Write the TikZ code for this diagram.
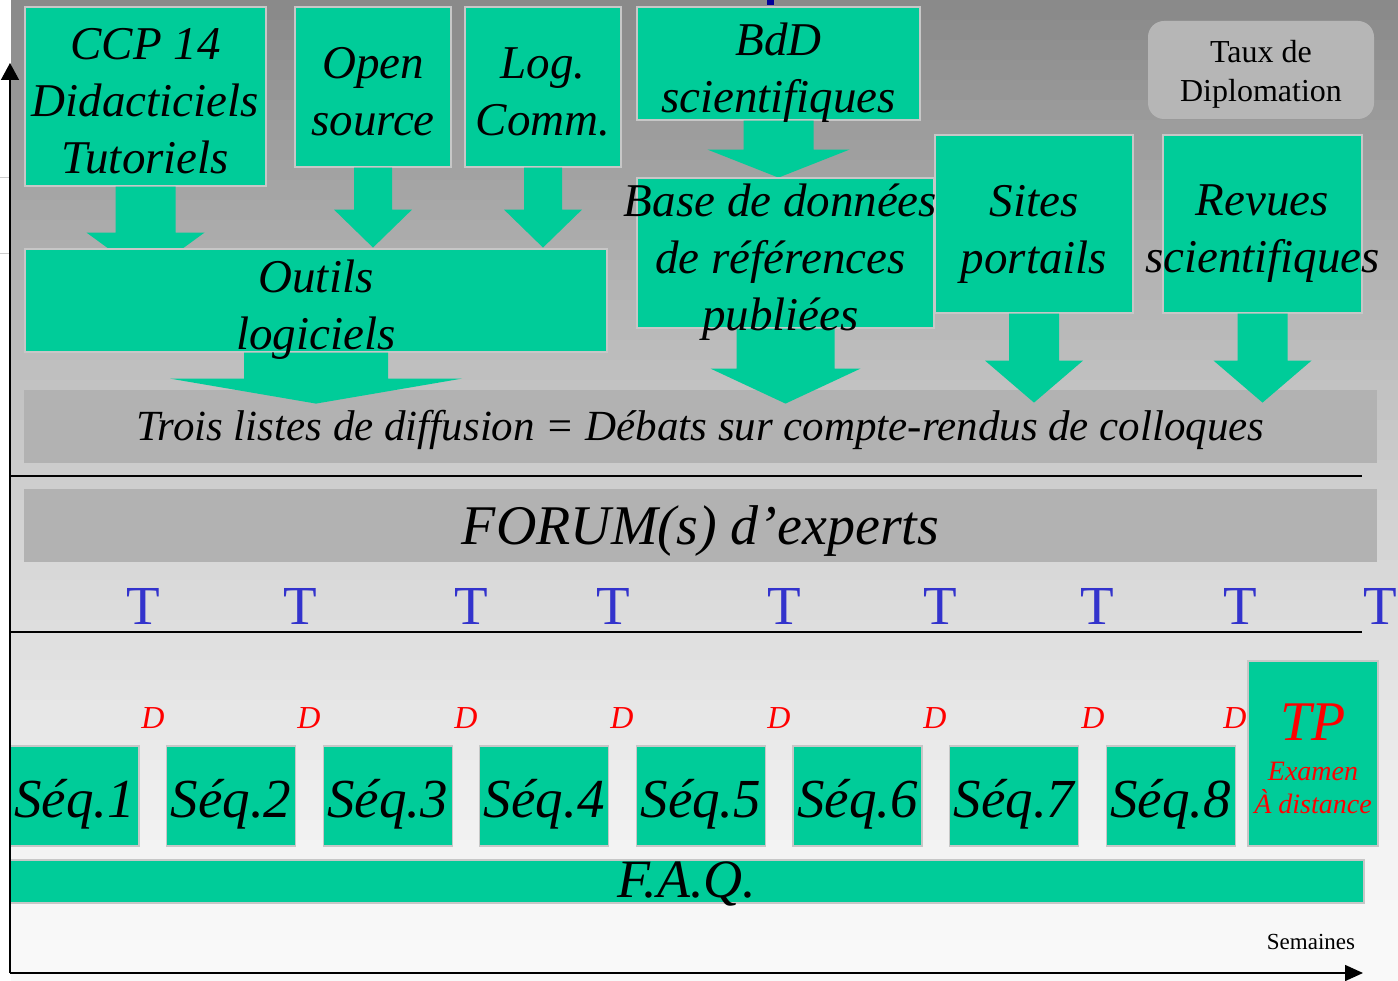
\documentclass[tikz,border=0pt]{standalone}
\usepackage{fontspec}
\setmainfont{Liberation Serif}
\usetikzlibrary{arrows.meta,calc}

\definecolor{boxgreen}{HTML}{00CC99}
\definecolor{bargray}{HTML}{B2B2B2}
\definecolor{tauxgray}{HTML}{B6B6B6}
\definecolor{tblue}{HTML}{3333CC}

\tikzset{
  gbox/.style={fill=boxgreen, draw=black!22, line width=1.2pt, inner sep=0pt},
  greybar/.style={fill=bargray, inner sep=0pt, minimum width=1353pt, minimum height=73pt, text depth=0pt},
  bigit/.style={font=\fontsize{47}{57}\selectfont\itshape, align=center, inner sep=0pt},
  tmark/.style={text=tblue, font=\fontsize{55}{55}\selectfont, inner sep=0pt},
  dmark/.style={text=red, font=\fontsize{32}{32}\selectfont\itshape, inner sep=0pt},
  seqbox/.style={gbox, minimum width=129pt, minimum height=100pt,
    font=\fontsize{55}{55}\selectfont\itshape, text height=42pt, text depth=0pt},
}

% source, shaft length, total length, shaft half width, head half width
\newcommand\bigarrow[5]{%
  \fill[boxgreen] ($(#1.south)+(-#4,0)$) -- ($(#1.south)+(-#4,#2)$) -- ($(#1.south)+(-#5,#2)$)
    -- ($(#1.south)+(0,#3)$) -- ($(#1.south)+(#5,#2)$) -- ($(#1.south)+(#4,#2)$)
    -- ($(#1.south)+(#4,0)$) -- cycle;}

\begin{document}
\begin{tikzpicture}[x=1pt, y=-1pt]
  \useasboundingbox (0,0) rectangle (1398,981);
  \fill[white] (0,0) rectangle (1398,981);

  % fond degrade
  \foreach \i in {0,...,48} {
    \pgfmathsetmacro\shadeval{2+44*(1-\i/49)^1.4}
    \fill[black!\shadeval] (11,\i*20) rectangle (1398,\i*20+21);
  }
  \draw[black!20] (0,177) -- (10,177);
  \draw[black!20] (0,253) -- (10,253);
  \fill[blue!60!black] (767,0) rectangle (774,5);

  % bandes grises
  \node[greybar, font=\fontsize{43}{43}\selectfont\itshape, text height=29pt] (listes) at (700.5,426.5)
    {Trois listes de diffusion = Débats sur compte-rendus de colloques};
  \node[greybar, font=\fontsize{56}{56}\selectfont\itshape, text height=38pt] (forum) at (700.5,525.5)
    {FORUM(s) d’experts};

  % ressources du haut
  \node[gbox, minimum width=241pt, minimum height=179pt] (ccp) at (145.5,96.5) {};
  \node[gbox, minimum width=156pt, minimum height=160pt] (opensrc) at (373,87) {};
  \node[gbox, minimum width=156pt, minimum height=160pt] (logcomm) at (543,87) {};
  \node[gbox, minimum width=283pt, minimum height=113pt] (bdd) at (778.5,63.5) {};

  \bigarrow{ccp}{46}{89}{30}{59}
  \bigarrow{opensrc}{42}{80}{19}{39}
  \bigarrow{logcomm}{42}{80}{19}{39}
  \bigarrow{bdd}{29}{57}{35}{71}

  \node[gbox, minimum width=582pt, minimum height=103pt] (outils) at (316,300.5) {};
  \node[gbox, minimum width=198pt, minimum height=178pt] (sites) at (1034,224) {};
  \node[gbox, minimum width=199pt, minimum height=178pt] (revues) at (1262.5,224) {};
  \node[gbox, minimum width=297pt, minimum height=150pt] (basedon) at (785.5,253) {};

  \bigarrow{outils}{26}{51}{72}{146}
  \bigarrow{basedon}{40}{75}{49}{75}
  \bigarrow{sites}{47}{89}{25}{49}
  \bigarrow{revues}{47}{89}{25}{49}

  \foreach \n/\dx/\dy/\t in {ccp/0/5/{CCP 14\\Didacticiels\\Tutoriels}, opensrc/0/5/{Open\\source},
      logcomm/0/5/{Log.\\Comm.}, bdd/0/9/{BdD\\scientifiques},
      basedon/-5/9/{Base de données\\de références\\publiées},
      sites/0/10/{Sites\\portails}, revues/0/10/{Revues\\scientifiques},
      outils/0/9/{Outils\\logiciels}}
    \node[bigit] (\n-txt) at ($(\n)+(\dx,\dy)$) {\t};

  \node[fill=tauxgray, rounded corners=16pt, minimum width=226pt, minimum height=98pt,
    align=center, font=\fontsize{32}{39}\selectfont, inner sep=0pt] (taux) at (1261,70) {};
  \node[align=center, font=\fontsize{32}{39}\selectfont, inner sep=0pt] (taux-txt)
    at ($(taux)+(0,4)$) {Taux de\\Diplomation};

  % semaines
  \draw[line width=1.3pt] (10,476) -- (1362,476);
  \draw[line width=1.3pt] (10,632) -- (1362,632);

  \foreach \x [count=\k] in {143,300,471,613,784,940,1097,1240,1380}
    \node[tmark] (t\k) at (\x,606) {T};
  \foreach \x [count=\k] in {153,309,466,622,779,935,1093,1235}
    \node[dmark] (d\k) at (\x,718) {D};
  \foreach \k in {1,...,8}
    \node[seqbox] (seq\k) at ({74.5+156.6*(\k-1)},796) {Séq.\k};

  \node[gbox, minimum width=130pt, minimum height=185pt] (tp) at (1313,753.5) {};
  \node[text=red, font=\fontsize{28}{33}\selectfont\itshape, align=center, inner sep=0pt]
    (tptxt) at ($(tp)+(0,5)$) {{\fontsize{56}{56}\selectfont TP}\\[7pt]Examen\\À distance};

  \node[gbox, minimum width=1354pt, minimum height=43pt, font=\fontsize{54}{54}\selectfont\itshape,
    text height=31pt, text depth=0pt] (faq) at (687,881.5) {F.A.Q.};

  % axes
  \coordinate (origin) at (10,973);
  \coordinate (yend) at (10,63);
  \coordinate (xend) at (1363,973);
  \draw[line width=1.5pt, -{Triangle[length=17pt, width=18pt]}] (origin) -- (yend);
  \draw[line width=1.5pt, -{Triangle[length=18pt, width=16pt]}] (origin) -- (xend);
  \node[font=\fontsize{23}{23}\selectfont, inner sep=0pt] (semaines) at (1311,942) {Semaines};
\end{tikzpicture}
\end{document}
